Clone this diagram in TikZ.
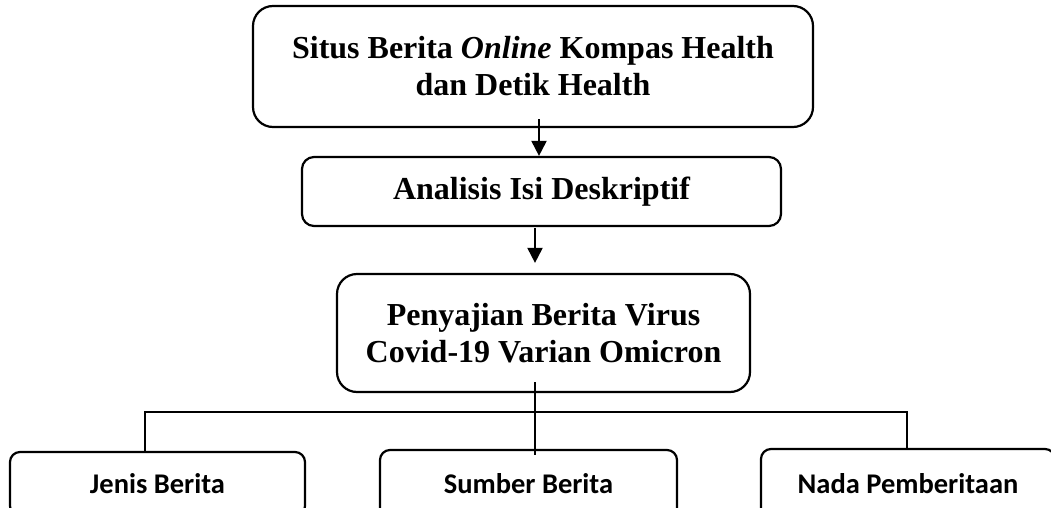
\documentclass[tikz,border=0pt]{standalone}
\usepackage{fontspec}
\setmainfont{Liberation Serif}
\newfontfamily\calib{Carlito}
\usetikzlibrary{arrows.meta,calc}
\begin{document}
\begin{tikzpicture}[x=1pt,y=-1pt,
  box/.style={draw, line width=2.2pt, rounded corners=#1, align=center, inner sep=0pt},
  box/.default=10pt,
  toptxt/.style={font=\bfseries\fontsize{32}{37}\selectfont},
  lowtxt/.style={font=\calib\bfseries\fontsize{28.5}{34}\selectfont},
  conn/.style={line width=2pt},
  arr/.style={conn, -{Triangle[width=15pt,length=15pt]}}]
\useasboundingbox (0,0) rectangle (1051,508);
\clip (0,0) rectangle (1051,508);
\node[box=20pt, toptxt, minimum width=560pt, minimum height=121pt] (n1) at (533,66.5)
  {Situs Berita \textit{Online} Kompas Health\\dan Detik Health};
\node[box=12pt, toptxt, minimum width=479pt, minimum height=69pt] (n2) at (541.5,191.5)
  {Analisis Isi Deskriptif};
\node[box=20pt, toptxt, minimum width=413pt, minimum height=118pt] (n3) at (543.5,333)
  {Penyajian Berita Virus\\Covid-19 Varian Omicron};
\node[box=10pt, lowtxt, minimum width=295pt, minimum height=64pt] (n4) at (157.5,484) {Jenis Berita};
\node[box=10pt, lowtxt, minimum width=297pt, minimum height=68pt] (n5) at (528.5,484) {Sumber Berita};
\node[box=10pt, lowtxt, minimum width=294pt, minimum height=70pt] (n6) at (908,484) {Nada Pemberitaan};
\coordinate (a1) at ($(n1.south)+(6,-9)$);
\coordinate (a1e) at (a1 |- n2.north);
\draw[arr] (a1) -- (a1e);
\coordinate (a2) at ($(n2.south)+(-6.5,1)$);
\coordinate (a2e) at ($(n3.north -| n2.south)+(-6.5,-10)$);
\draw[arr] (a2) -- (a2e);
\draw[conn] ($(n3.south)+(-8.5,-11)$) -- ($(n5.north)+(6.5,6)$);
\draw[conn] ($(n4.north)+(-12.5,0)$) -- ++(0,-39) -| ($(n6.north)+(-1,0)$);
\end{tikzpicture}
\end{document}
